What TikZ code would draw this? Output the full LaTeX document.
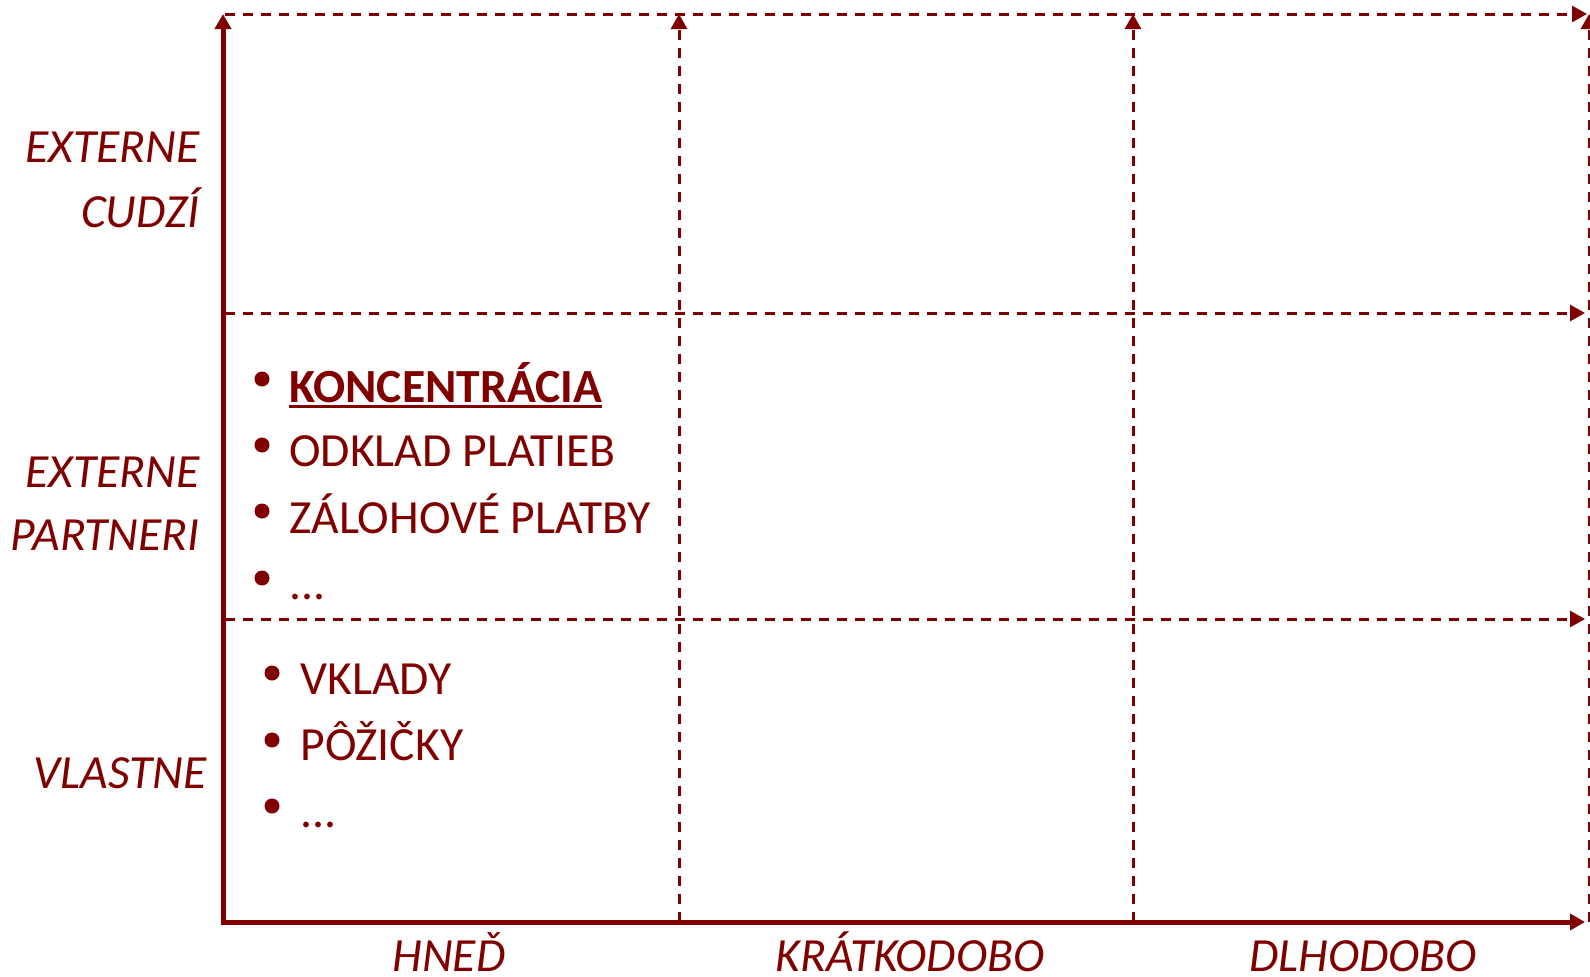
\documentclass[tikz,border=0pt]{standalone}
\usepackage{fontspec}
\setmainfont{Carlito}
\usetikzlibrary{arrows.meta}
\definecolor{maroon}{RGB}{128,0,0}
\tikzset{
  axisline/.style={draw=maroon, line width=2.5pt, -{Triangle[length=7.5pt,width=8pt]}},
  gridline/.style={draw=maroon, line width=1.5pt, dash pattern=on 5pt off 4pt, -{Triangle[length=7.5pt,width=8pt]}},
  rowlabel/.style={text=maroon, font=\fontsize{23.8}{28}\selectfont\itshape, anchor=base east, inner sep=0pt},
  collabel/.style={text=maroon, font=\fontsize{23.8}{28}\selectfont\itshape, anchor=base, inner sep=0pt},
  itemtext/.style={text=maroon, font=\fontsize{23.8}{28}\selectfont, anchor=base west, inner sep=0pt},
  bulletdot/.style={circle, fill=maroon, minimum size=7.5pt, inner sep=0pt}
}
\begin{document}
\begin{tikzpicture}[x=0.5pt,y=-0.5pt]
\useasboundingbox (0,0) rectangle (1590,976);
% grid coordinates
\coordinate (o) at (223,922);
\coordinate (ytop) at (223,14);
\coordinate (xend) at (1585,922);
\coordinate (v1b) at (679,922);  \coordinate (v1t) at (679,14);
\coordinate (v2b) at (1133,922); \coordinate (v2t) at (1133,14);
\coordinate (v3b) at (1589,922); \coordinate (v3t) at (1589,14);
\coordinate (h0l) at (225,14);   \coordinate (h0r) at (1587,14);
\coordinate (h1l) at (225,313);  \coordinate (h1r) at (1585,313);
\coordinate (h2l) at (225,619);  \coordinate (h2r) at (1585,619);
% dashed grid
\draw[gridline] (h0l) -- (h0r);
\draw[gridline] (h1l) -- (h1r);
\draw[gridline] (h2l) -- (h2r);
\draw[gridline] (v1b) -- (v1t);
\draw[gridline] (v2b) -- (v2t);
\draw[gridline] (v3b) -- (v3t);
% axes
\draw[axisline] ([yshift=-1.25pt]o) -- (ytop);
\draw[axisline] (o) -- (xend);
% row labels
\node[rowlabel] (r1a) at (200,162) {EXTERNE};
\node[rowlabel] (r1b) at (200,227) {CUDZÍ};
\node[rowlabel] (r2a) at (200,487) {EXTERNE};
\node[rowlabel] (r2b) at (200,550) {PARTNERI};
\node[rowlabel] (r3) at (207,788) {VLASTNE};
% column labels
\node[collabel] (c1) at (449,971) {HNEĎ};
\node[collabel] (c2) at (910,971) {KRÁTKODOBO};
\node[collabel] (c3) at (1363,971) {DLHODOBO};
% middle cell list
\node[bulletdot] (b1) at (262,379) {};
\node[itemtext,font=\fontsize{23.8}{28}\selectfont\bfseries] (k) at (289,402) {KONCENTRÁCIA};
\draw[maroon, line width=1.25pt] ([yshift=-2.2pt]k.base west) -- ([yshift=-2.2pt]k.base east);
\node[bulletdot] (b2) at (262,445) {};
\node[itemtext] (t2) at (289,466) {ODKLAD PLATIEB};
\node[bulletdot] (b3) at (262,511) {};
\node[itemtext] (t3) at (289,533) {ZÁLOHOVÉ PLATBY};
\node[bulletdot] (b4) at (262,578) {};
\node[itemtext] (t4) at (289,599) {...};
% bottom cell list
\node[bulletdot] (b5) at (272,673) {};
\node[itemtext] (t5) at (300,694) {VKLADY};
\node[bulletdot] (b6) at (272,740) {};
\node[itemtext] (t6) at (300,760) {PÔŽIČKY};
\node[bulletdot] (b7) at (272,806) {};
\node[itemtext] (t7) at (300,827) {...};
\end{tikzpicture}
\end{document}
